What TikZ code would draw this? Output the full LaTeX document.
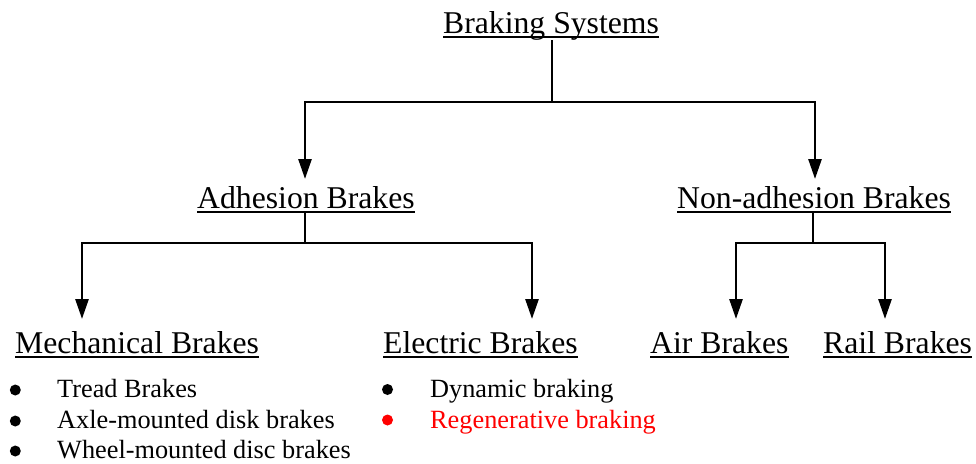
\documentclass[tikz,border=0pt]{standalone}
\usepackage{fontspec}
\setmainfont{Liberation Serif}
\usetikzlibrary{arrows.meta}
\tikzset{
 head/.style={font=\fontsize{31.7}{36}\selectfont, inner sep=0pt, anchor=base west},
 item/.style={font=\fontsize{26.3}{30}\selectfont, inner sep=0pt, anchor=base west},
 dot/.style={circle, fill, inner sep=0pt, minimum size=11pt},
 conn/.style={line width=2.7pt},
 arr/.style={conn, -{Triangle[width=13pt,length=20pt]}},
 ul/.style={line width=1.3pt},
}
\newcommand{\ulnode}[1]{\draw[ul] ([yshift=-4pt]#1.base west) -- ([yshift=-4pt]#1.base east);}
\begin{document}
\begin{tikzpicture}[x=1pt,y=-1pt]
\useasboundingbox (0,0) rectangle (976,463);
% headings
\node[head] (top)  at (443,33)  {Braking Systems};
\node[head] (adh)  at (197,208) {Adhesion Brakes};
\node[head] (non)  at (677,208) {Non-adhesion Brakes};
\node[head] (mech) at (15,353)  {Mechanical Brakes};
\node[head] (elec) at (383,353) {Electric Brakes};
\node[head] (air)  at (650,353) {Air Brakes};
\node[head] (rail) at (823,353) {Rail Brakes};
\ulnode{top}\ulnode{adh}\ulnode{non}\ulnode{mech}\ulnode{elec}\ulnode{air}\ulnode{rail}
% bullet lists
\node[dot] (b1) at (15.3,390) {};
\node[item] (i1) at (57,397) {Tread Brakes};
\node[dot] (b2) at (15.3,421) {};
\node[item] (i2) at (57,428) {Axle-mounted disk brakes};
\node[dot] (b3) at (15.3,451) {};
\node[item] (i3) at (57,458) {Wheel-mounted disc brakes};
\node[dot] (b4) at (387.5,389.5) {};
\node[item] (i4) at (430,397) {Dynamic braking};
\node[dot, fill=red] (b5) at (387.5,420) {};
\node[item, text=red] (i5) at (430,428) {Regenerative braking};
% junctions and arrow tips
\coordinate (j1) at (552,102);
\coordinate (ta) at (305,179);
\coordinate (tn) at (815,179);
\coordinate (j2) at (305,243);
\coordinate (tm) at (82,319);
\coordinate (te) at (532,319);
\coordinate (j3) at (813,243);
\coordinate (tai) at (736,319);
\coordinate (tr) at (885,319);
% connectors
\draw[conn] (top.south -| j1) -- (j1);
\draw[arr] (j1) -| (ta);
\draw[arr] (j1) -| (tn);
\draw[conn] ([yshift=-5pt]adh.base -| j2) -- (j2);
\draw[arr] (j2) -| (tm);
\draw[arr] (j2) -| (te);
\draw[conn] ([yshift=-5pt]non.base -| j3) -- (j3);
\draw[arr] (j3) -| (tai);
\draw[arr] (j3) -| (tr);
\end{tikzpicture}
\end{document}
